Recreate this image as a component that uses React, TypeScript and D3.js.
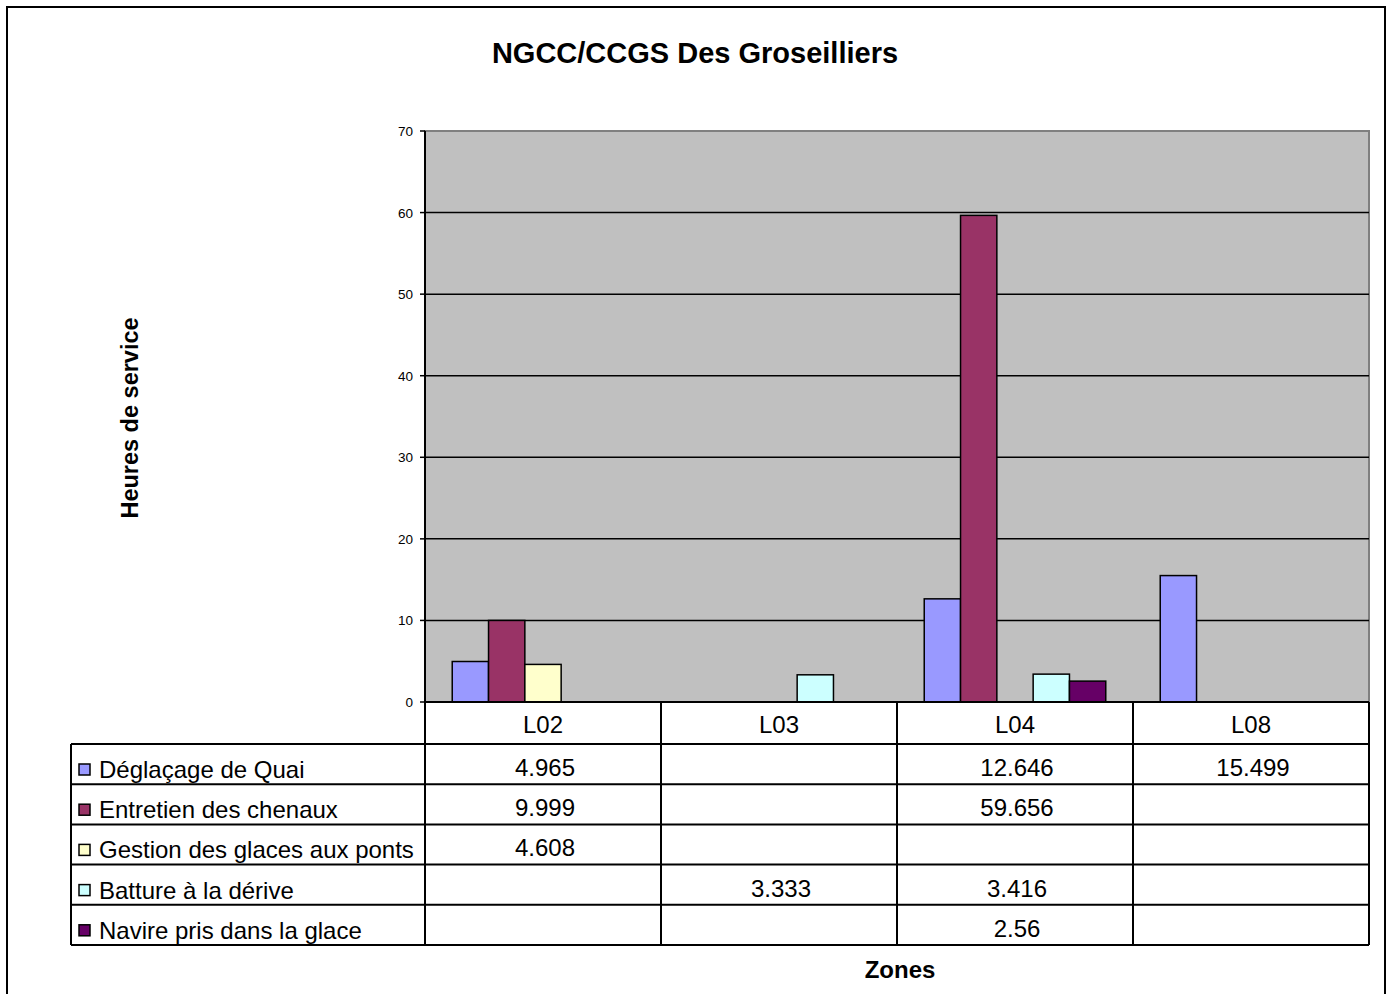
import * as d3 from 'd3';

const zones = ['L02', 'L03', 'L04', 'L08'];
const seriesNames = [
  'Déglaçage de Quai',
  'Entretien des chenaux',
  'Gestion des glaces aux ponts',
  'Batture à la dérive',
  'Navire pris dans la glace',
];
const seriesColors = ['#9999FF', '#993366', '#FFFFCC', '#CCFFFF', '#660066'];
// values per series, one per zone (null = no value)
const deglacage = [4.965, null, 12.646, 15.499];
const entretien = [9.999, null, 59.656, null];
const gestion = [4.608, null, null, null];
const batture = [null, 3.333, 3.416, null];
const navire = [null, null, 2.56, null];
const yTicks = [0, 10, 20, 30, 40, 50, 60, 70];

const seriesValues = [deglacage, entretien, gestion, batture, navire];

const W = 1391;
const H = 994;
const plot = { left: 425, right: 1369, top: 131, bottom: 702 };
const tableLeft = 71;
const headerH = 42;
const rowH = 40.2;
const font = '"Liberation Sans", Arial, sans-serif';
const tableFont = 24;

export default function App() {
  const x = d3.scaleBand<string>().domain(zones).range([plot.left, plot.right]);
  // Excel gap width 150%
  const inner = d3
    .scaleBand<number>()
    .domain(d3.range(seriesNames.length))
    .range([0, x.bandwidth()])
    .paddingOuter(0.75)
    .paddingInner(0);
  const y = d3.scaleLinear().domain([0, 70]).range([plot.bottom, plot.top]);

  const rowTop = (i: number) => plot.bottom + headerH + i * rowH;
  const tableBottom = rowTop(seriesNames.length);

  return (
    <div style={{ position: 'absolute', left: 0, top: 0 }}>
      <svg width={W} height={H} style={{ display: 'block', fontFamily: font }}>
        <rect x={0} y={0} width={W} height={H} fill="#fff" />
        <rect x={7} y={7} width={1378} height={1000} fill="none" stroke="#000" strokeWidth={2} />

        <text x={695} y={63} textAnchor="middle" fontSize={29} fontWeight="bold">
          NGCC/CCGS Des Groseilliers
        </text>

        {/* plot area */}
        <rect
          x={plot.left}
          y={plot.top}
          width={plot.right - plot.left}
          height={plot.bottom - plot.top}
          fill="#C0C0C0"
          stroke="#808080"
          strokeWidth={2}
        />
        {yTicks.filter(t => t > 0 && t < 70).map(t => (
          <line key={t} x1={plot.left} x2={plot.right} y1={y(t)} y2={y(t)} stroke="#000" strokeWidth={1.5} />
        ))}

        {/* bars */}
        {seriesValues.map((vals, si) =>
          vals.map((v, zi) =>
            v == null ? null : (
              <rect
                key={si + '-' + zi}
                x={x(zones[zi])! + inner(si)!}
                y={y(v)}
                width={inner.bandwidth()}
                height={y(0) - y(v)}
                fill={seriesColors[si]}
                stroke="#000"
                strokeWidth={1.5}
              />
            )
          )
        )}

        {/* y axis */}
        <line x1={plot.left} x2={plot.left} y1={plot.top} y2={plot.bottom} stroke="#000" strokeWidth={2} />
        {yTicks.map(t => (
          <g key={t}>
            <line x1={plot.left - 5} x2={plot.left} y1={y(t)} y2={y(t)} stroke="#000" strokeWidth={1.5} />
            <text x={413} y={y(t) + 5} textAnchor="end" fontSize={13.5}>
              {t}
            </text>
          </g>
        ))}
        <text
          transform={`translate(138,418) rotate(-90)`}
          textAnchor="middle"
          fontSize={23.5}
          fontWeight="bold"
        >
          Heures de service
        </text>

        {/* data table */}
        <g stroke="#000" strokeWidth={2} fill="none">
          <line x1={plot.left} x2={plot.right} y1={plot.bottom} y2={plot.bottom} />
          {seriesNames.map((_, i) => (
            <line key={i} x1={tableLeft} x2={plot.right} y1={rowTop(i)} y2={rowTop(i)} />
          ))}
          <line x1={tableLeft} x2={plot.right} y1={tableBottom} y2={tableBottom} />
          <line x1={tableLeft} x2={tableLeft} y1={rowTop(0)} y2={tableBottom} />
          {zones.map(z => (
            <line key={z} x1={x(z)!} x2={x(z)!} y1={plot.bottom} y2={tableBottom} />
          ))}
          <line x1={plot.right} x2={plot.right} y1={plot.bottom} y2={tableBottom} />
        </g>
        {zones.map(z => (
          <text key={z} x={x(z)! + x.bandwidth() / 2} y={plot.bottom + 31} textAnchor="middle" fontSize={tableFont}>
            {z}
          </text>
        ))}
        {seriesNames.map((name, i) => (
          <g key={name}>
            <rect x={79} y={rowTop(i) + 20} width={11} height={11} fill={seriesColors[i]} stroke="#000" strokeWidth={1.5} />
            <text x={99} y={rowTop(i) + 34} fontSize={tableFont}>
              {name}
            </text>
            {seriesValues[i].map((v, zi) =>
              v == null ? null : (
                <text key={zi} x={x(zones[zi])! + x.bandwidth() / 2 + 2} y={rowTop(i) + 32} textAnchor="middle" fontSize={tableFont}>
                  {String(v)}
                </text>
              )
            )}
          </g>
        ))}

        <text x={900} y={978} textAnchor="middle" fontSize={24} fontWeight="bold">
          Zones
        </text>
      </svg>
    </div>
  );
}
